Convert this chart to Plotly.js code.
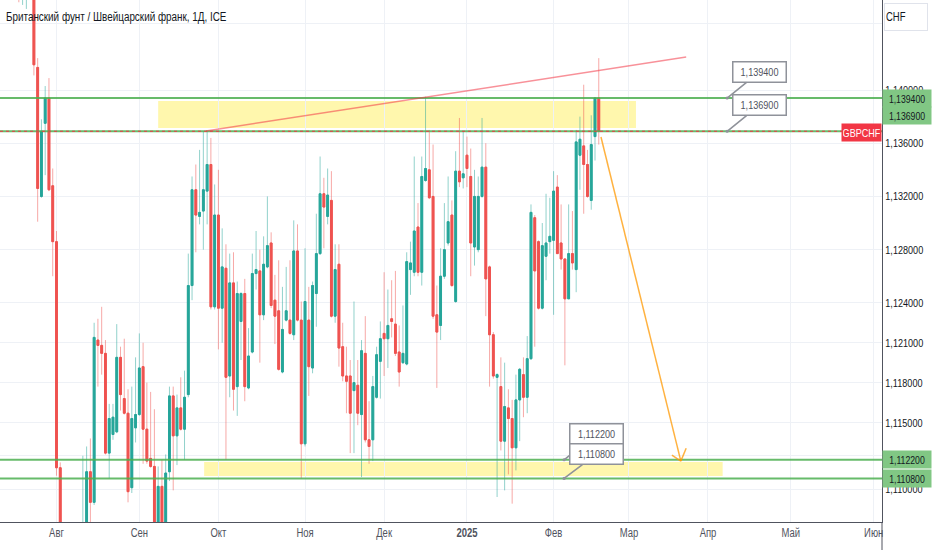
<!DOCTYPE html>
<html>
<head>
<meta charset="utf-8">
<script src="https://cdn.plot.ly/plotly-3.0.1.min.js"></script>
<style>
html,body{margin:0;padding:0;background:#fff;}
#chart{width:932px;height:550px;}
</style>
</head>
<body>
<div id="chart"></div>
<script>
// ---- data (GBPCHF daily) ----
const dates = [
'2024-07-17','2024-07-18','2024-07-19','2024-07-22','2024-07-23','2024-07-24','2024-07-25','2024-07-26','2024-07-29','2024-07-30','2024-07-31',
'2024-08-01','2024-08-02','2024-08-05','2024-08-06','2024-08-07','2024-08-08','2024-08-09','2024-08-12','2024-08-13','2024-08-14','2024-08-15','2024-08-16','2024-08-19','2024-08-20','2024-08-21','2024-08-22','2024-08-23','2024-08-26','2024-08-27','2024-08-28','2024-08-29','2024-08-30',
'2024-09-02','2024-09-03','2024-09-04','2024-09-05','2024-09-06','2024-09-09','2024-09-10','2024-09-11','2024-09-12','2024-09-13','2024-09-16','2024-09-17','2024-09-18','2024-09-19','2024-09-20','2024-09-23','2024-09-24','2024-09-25','2024-09-26','2024-09-27','2024-09-30',
'2024-10-01','2024-10-02','2024-10-03','2024-10-04','2024-10-07','2024-10-08','2024-10-09','2024-10-10','2024-10-11','2024-10-14','2024-10-15','2024-10-16','2024-10-17','2024-10-18','2024-10-21','2024-10-22','2024-10-23','2024-10-24','2024-10-25','2024-10-28','2024-10-29','2024-10-30','2024-10-31',
'2024-11-01','2024-11-04','2024-11-05','2024-11-06','2024-11-07','2024-11-08','2024-11-11','2024-11-12','2024-11-13','2024-11-14','2024-11-15','2024-11-18','2024-11-19','2024-11-20','2024-11-21','2024-11-22','2024-11-25','2024-11-26','2024-11-27','2024-11-28','2024-11-29',
'2024-12-02','2024-12-03','2024-12-04','2024-12-05','2024-12-06','2024-12-09','2024-12-10','2024-12-11','2024-12-12','2024-12-13','2024-12-16','2024-12-17','2024-12-18','2024-12-19','2024-12-20','2024-12-23','2024-12-24','2024-12-25','2024-12-26','2024-12-27','2024-12-30','2024-12-31',
'2025-01-01','2025-01-02','2025-01-03','2025-01-06','2025-01-07','2025-01-08','2025-01-09','2025-01-10','2025-01-13','2025-01-14','2025-01-15','2025-01-16','2025-01-17','2025-01-20','2025-01-21','2025-01-22','2025-01-23','2025-01-24','2025-01-27','2025-01-28','2025-01-29','2025-01-30','2025-01-31',
'2025-02-03','2025-02-04','2025-02-05','2025-02-06','2025-02-07','2025-02-10','2025-02-11','2025-02-12','2025-02-13','2025-02-14','2025-02-17','2025-02-18','2025-02-19'
];
const open = [
1.1560,1.1545,1.1490,1.1495,1.1515,1.1490,1.1417,1.1320,1.1375,1.1394,1.1328,
1.1286,1.1116,1.1050,1.0980,1.1010,1.1040,1.1000,1.1050,1.1065,1.1113,1.1090,1.1212,1.1208,1.1202,1.1127,1.1141,1.1143,1.1199,1.1168,1.1157,1.1101,1.1146,
1.1156,1.1192,1.1145,1.1123,1.1117,1.1068,1.1102,1.1065,1.1113,1.1170,1.1140,1.1161,1.1145,1.1171,1.1253,1.1325,1.1305,1.1309,1.1324,1.1344,1.1237,
1.1306,1.1236,1.1266,1.1185,1.1255,1.1177,1.1226,1.1247,1.1176,1.1203,1.1262,1.1264,1.1231,1.1267,1.1285,1.1242,1.1234,1.1188,1.1227,1.1227,1.1216,1.1279,1.1227,
1.1134,1.1227,1.1191,1.1247,1.1277,1.1322,1.1305,1.1317,1.1230,1.1269,1.1207,1.1185,1.1185,1.1174,1.1178,1.1156,1.1202,1.1137,1.1137,1.1169,1.1196,
1.1217,1.1213,1.1228,1.1224,1.1203,1.1195,1.1194,1.1265,1.1263,1.1297,1.1263,1.1332,1.1340,1.1320,1.1231,1.1223,1.1260,1.1285,1.1306,1.1241,1.1339,1.1334,
1.1351,1.1335,1.1282,1.1280,1.1320,1.1342,1.1267,1.1216,1.1184,1.1177,1.1136,1.1161,1.1153,1.1131,1.1167,1.1186,1.1169,1.1198,1.1304,1.1286,1.1236,1.1275,1.1286,
1.1287,1.1327,1.1285,1.1273,1.1243,1.1277,1.1265,1.1351,1.1358,1.1344,1.1317,1.1365,1.1394
];
const high = [
1.1580,1.1560,1.1530,1.1530,1.1530,1.1500,1.1424,1.1378,1.1403,1.1409,1.1341,
1.1294,1.1120,1.1070,1.1030,1.1060,1.1065,1.1068,1.1125,1.1132,1.1138,1.1225,1.1228,1.1237,1.1212,1.1164,1.1164,1.1224,1.1207,1.1213,1.1175,1.1177,1.1199,
1.1217,1.1210,1.1180,1.1173,1.1160,1.1117,1.1122,1.1126,1.1177,1.1177,1.1171,1.1184,1.1189,1.1277,1.1335,1.1344,1.1355,1.1369,1.1369,1.1364,1.1329,
1.1340,1.1296,1.1284,1.1277,1.1278,1.1256,1.1248,1.1258,1.1221,1.1277,1.1294,1.1280,1.1290,1.1320,1.1293,1.1261,1.1272,1.1252,1.1267,1.1272,1.1302,1.1299,1.1241,
1.1281,1.1252,1.1256,1.1307,1.1350,1.1334,1.1341,1.1339,1.1284,1.1284,1.1225,1.1207,1.1197,1.1241,1.1197,1.1212,1.1230,1.1166,1.1185,1.1207,1.1226,
1.1263,1.1250,1.1257,1.1264,1.1223,1.1238,1.1278,1.1286,1.1350,1.1315,1.1350,1.1395,1.1370,1.1359,1.1253,1.1281,1.1315,1.1335,1.1317,1.1354,1.1379,1.1369,
1.1365,1.1356,1.1340,1.1335,1.1379,1.1360,1.1268,1.1218,1.1187,1.1199,1.1195,1.1175,1.1167,1.1186,1.1191,1.1199,1.1215,1.1314,1.1306,1.1287,1.1300,1.1322,1.1319,
1.1339,1.1336,1.1314,1.1273,1.1314,1.1309,1.1370,1.1380,1.1404,1.1355,1.1381,1.1394,1.1424
];
const low = [
1.1530,1.1466,1.1464,1.1461,1.1472,1.1411,1.1301,1.1319,1.1336,1.1324,1.1260,
1.1110,1.1045,1.0920,1.0960,1.0990,1.0985,1.0990,1.1030,1.1050,1.1070,1.1088,1.1177,1.1186,1.1126,1.1108,1.1137,1.1142,1.1159,1.1156,1.1090,1.1097,1.1135,
1.1155,1.1119,1.1119,1.1116,1.1060,1.1062,1.1058,1.1060,1.1106,1.1099,1.1118,1.1144,1.1122,1.1169,1.1242,1.1278,1.1299,1.1280,1.1299,1.1235,1.1235,
1.1205,1.1210,1.1122,1.1169,1.1159,1.1155,1.1197,1.1166,1.1175,1.1202,1.1250,1.1195,1.1227,1.1266,1.1236,1.1209,1.1189,1.1187,1.1226,1.1216,1.1212,1.1226,1.1108,
1.1132,1.1170,1.1187,1.1222,1.1276,1.1281,1.1299,1.1229,1.1225,1.1192,1.1181,1.1157,1.1127,1.1127,1.1148,1.1109,1.1135,1.1119,1.1121,1.1168,1.1168,
1.1185,1.1191,1.1214,1.1200,1.1177,1.1194,1.1193,1.1246,1.1260,1.1260,1.1253,1.1331,1.1318,1.1228,1.1176,1.1212,1.1258,1.1283,1.1252,1.1240,1.1327,1.1326,
1.1327,1.1260,1.1268,1.1278,1.1319,1.1230,1.1177,1.1183,1.1094,1.1129,1.1099,1.1111,1.1089,1.1114,1.1136,1.1154,1.1157,1.1197,1.1207,1.1235,1.1235,1.1257,1.1277,
1.1231,1.1277,1.1265,1.1193,1.1243,1.1265,1.1248,1.1325,1.1307,1.1319,1.1310,1.1347,1.1359
];
const close = [
1.1545,1.1500,1.1510,1.1515,1.1490,1.1419,1.1326,1.1369,1.1394,1.1325,1.1286,
1.1116,1.1060,1.0980,1.1010,1.1040,1.1000,1.1050,1.1065,1.1113,1.1090,1.1214,1.1208,1.1202,1.1127,1.1153,1.1154,1.1199,1.1171,1.1157,1.1098,1.1153,1.1156,
1.1191,1.1145,1.1121,1.1117,1.1070,1.1102,1.1065,1.1112,1.1170,1.1140,1.1161,1.1145,1.1169,1.1253,1.1325,1.1306,1.1308,1.1325,1.1344,1.1237,1.1306,
1.1236,1.1267,1.1184,1.1255,1.1175,1.1247,1.1247,1.1177,1.1200,1.1262,1.1265,1.1231,1.1269,1.1283,1.1238,1.1230,1.1190,1.1220,1.1234,1.1217,1.1279,1.1227,1.1134,
1.1241,1.1192,1.1253,1.1277,1.1322,1.1312,1.1321,1.1230,1.1265,1.1206,1.1185,1.1181,1.1157,1.1180,1.1157,1.1204,1.1137,1.1132,1.1177,1.1201,1.1213,
1.1213,1.1223,1.1226,1.1202,1.1188,1.1202,1.1271,1.1270,1.1294,1.1263,1.1335,1.1341,1.1319,1.1230,1.1218,1.1260,1.1280,1.1301,1.1253,1.1339,1.1331,1.1337,
1.1341,1.1285,1.1320,1.1320,1.1342,1.1258,1.1216,1.1185,1.1186,1.1136,1.1162,1.1153,1.1131,1.1167,1.1190,1.1169,1.1198,1.1308,1.1264,1.1236,1.1283,1.1285,1.1290,
1.1324,1.1277,1.1273,1.1243,1.1277,1.1270,1.1361,1.1363,1.1344,1.1320,1.1359,1.1394,1.1369
];

// horizontal levels (green lines) and their labels
const levels = [1.1394, 1.1369, 1.1122, 1.1108];
// month ticks
const monthTicks  = ['2024-08-01','2024-09-02','2024-10-01','2024-11-01','2024-12-02','2025-01-01','2025-02-03','2025-03-03','2025-04-01','2025-05-01','2025-06-02'];
const monthLabels = ['Авг','Сен','Окт','Ноя','Дек','<b>2025</b>','Фев','Мар','Апр','Май','Июн'];
// price ticks (the top one is a gridline only; its label sits under the CHF box)
const priceTicks = [1.1100, 1.1125, 1.1150, 1.1180, 1.1210, 1.1240, 1.1280, 1.1320, 1.1360, 1.1400, 1.1450];
const hiddenTick = 1.1450;

// drawings (zones, trend line, forecast arrow)
const zoneTop    = {x0:'2024-09-09', x1:'2025-03-04 21:00', y0:1.13714, y1:1.13917};
const zoneBottom = {x0:'2024-09-25 05:00', x1:'2025-04-04 21:30', y0:1.11098, y1:1.11203};
const trend  = {x0:'2024-09-25 17:00', y0:1.13692, x1:'2025-03-24 05:00', y1:1.14248};
const arrow  = {x0:'2025-02-19 14:00', y0:1.13647, x1:'2025-03-20 19:00', y1:1.11210,
                lx:'2025-03-18 10:00', ly:1.11255, rx:'2025-03-24 05:00', ry:1.11306};
const calloutTopX = '2025-04-08 02:00';
const calloutBotX = '2025-02-05 19:00';

const FONT = "'Liberation Sans',Arial,sans-serif";
const NARROW = 0.79;   // the reference uses a condensed face
const fmt = v => v.toFixed(6).replace('.', ',');

const bodyHigh = open.map((o,i) => Math.max(o, close[i]));
const bodyLow  = open.map((o,i) => Math.min(o, close[i]));
const lastClose = close[close.length-1];

const wicks = {
  type:'candlestick', x:dates, open:open, high:high, low:low, close:close,
  increasing:{line:{color:'rgba(38,166,154,0.5)', width:1}, fillcolor:'rgba(38,166,154,0.5)'},
  decreasing:{line:{color:'rgba(239,83,80,0.5)', width:1}, fillcolor:'rgba(239,83,80,0.5)'},
  whiskerwidth:0, hoverinfo:'skip', showlegend:false
};
const bodies = {
  type:'candlestick', x:dates, open:open, high:bodyHigh, low:bodyLow, close:close,
  increasing:{line:{color:'#26a69a', width:1}, fillcolor:'#26a69a'},
  decreasing:{line:{color:'#ef5350', width:1}, fillcolor:'#ef5350'},
  whiskerwidth:0, hoverinfo:'skip', showlegend:false
};

const shapes = [];
shapes.push({type:'rect', xref:'x', yref:'y', x0:zoneTop.x0, x1:zoneTop.x1, y0:zoneTop.y0, y1:zoneTop.y1,
  fillcolor:'rgba(255,241,118,0.6)', line:{width:0}, layer:'below'});
shapes.push({type:'rect', xref:'x', yref:'y', x0:zoneBottom.x0, x1:zoneBottom.x1, y0:zoneBottom.y0, y1:zoneBottom.y1,
  fillcolor:'rgba(255,241,118,0.6)', line:{width:0}, layer:'below'});
levels.forEach(v => shapes.push({type:'line', xref:'paper', yref:'y', x0:0, x1:1, y0:v, y1:v,
  line:{color:'rgba(76,175,80,0.85)', width:2}}));
shapes.push({type:'line', xref:'paper', yref:'y', x0:0, x1:1, y0:lastClose, y1:lastClose,
  line:{color:'#f23645', width:1, dash:'dot'}});
shapes.push({type:'line', xref:'x', yref:'y', x0:trend.x0, y0:trend.y0, x1:trend.x1, y1:trend.y1,
  line:{color:'rgba(242,54,69,0.55)', width:1.5}});
shapes.push({type:'line', xref:'x', yref:'y', x0:arrow.x0, y0:arrow.y0, x1:arrow.x1, y1:arrow.y1,
  line:{color:'rgba(255,152,0,0.75)', width:1.5}});
shapes.push({type:'line', xref:'x', yref:'y', x0:arrow.lx, y0:arrow.ly, x1:arrow.x1, y1:arrow.y1,
  line:{color:'rgba(255,152,0,0.75)', width:1.5}});
shapes.push({type:'line', xref:'x', yref:'y', x0:arrow.rx, y0:arrow.ry, x1:arrow.x1, y1:arrow.y1,
  line:{color:'rgba(255,152,0,0.75)', width:1.5}});
// price-scale separator continues down through the time-axis strip
shapes.push({type:'line', xref:'paper', yref:'paper', x0:1, x1:1, y0:-0.06, y1:0,
  line:{color:'#50535e', width:1}});

const annotations = [];
annotations.push({xref:'paper', yref:'paper', x:0, y:1, xanchor:'left', yanchor:'top', xshift:4, yshift:-8,
  text:'Британский фунт / Швейцарский франк, 1Д, ICE', showarrow:false, align:'left',
  font:{family:FONT, size:12.5, color:'#131722'}});
annotations.push({xref:'paper', yref:'paper', x:1, y:1, xanchor:'left', yanchor:'top', xshift:2, yshift:-3,
  text:'CHF', showarrow:false, align:'left', width:40, height:24, bgcolor:'#ffffff',
  bordercolor:'#e0e3eb', borderwidth:1, borderpad:1, font:{family:FONT, size:12, color:'#131722'}});
// right-axis level labels
const levelShift = [0, 16, 0, 0];
levels.forEach((v,i) => annotations.push({xref:'paper', yref:'y', x:1, y:v, xanchor:'left', yanchor:'middle',
  yshift:levelShift[i], text:fmt(v), showarrow:false, width:46, height:15, borderpad:1,
  bgcolor:'#81c784', font:{family:FONT, size:11, color:'#131722'}}));
// symbol label
annotations.push({xref:'paper', yref:'y', x:1, y:lastClose, xanchor:'right', yanchor:'middle', yshift:-1,
  text:'GBPCHF', showarrow:false, width:37, height:15, borderpad:1, bgcolor:'#f23645',
  font:{family:FONT, size:11.5, color:'#ffffff'}});
// callouts
const calloutX = [calloutTopX, calloutTopX, calloutBotX, calloutBotX];
const calloutAy = [-26, -26, -26, -24];
levels.forEach((v,i) => annotations.push({xref:'x', yref:'y', x:calloutX[i], y:v, ax:32, ay:calloutAy[i],
  text:fmt(v), showarrow:true, arrowhead:6, arrowsize:0.5, arrowwidth:1.6, arrowcolor:'#8f929a',
  width:48, height:15, borderpad:2, bgcolor:'#ffffff', bordercolor:'#8f929a', borderwidth:1.5,
  font:{family:FONT, size:11.5, color:'#50535e'}}));

const layout = {
  width:932, height:550,
  margin:{l:0, r:50, t:0, b:28, pad:0},
  paper_bgcolor:'#ffffff', plot_bgcolor:'#ffffff',
  separators:', ',
  showlegend:false, hovermode:false, dragmode:false,
  font:{family:FONT, size:11, color:'#131722'},
  xaxis:{
    type:'date', range:['2024-07-11','2025-06-04 05:00'],
    rangebreaks:[{bounds:['sat','mon']}],
    rangeslider:{visible:false},
    tickmode:'array', tickvals:monthTicks, ticktext:monthLabels,
    showgrid:true, gridcolor:'#eef1f6', gridwidth:1,
    showline:true, linecolor:'#50535e', linewidth:1, mirror:false,
    ticks:'', tickfont:{family:FONT, size:12, color:'#50535e'},
    zeroline:false, fixedrange:true
  },
  yaxis:{
    side:'right', range:[1.10752, 1.14677],
    tickmode:'array', tickvals:priceTicks,
    ticktext:priceTicks.map(v => v === hiddenTick ? '' : fmt(v)),
    showgrid:true, gridcolor:'#eef1f6', gridwidth:1,
    showline:true, linecolor:'#50535e', linewidth:1,
    ticks:'', tickfont:{family:FONT, size:11.5, color:'#131722'},
    zeroline:false, fixedrange:true
  },
  shapes:shapes,
  annotations:annotations
};

Plotly.newPlot('chart', [wicks, bodies], layout, {staticPlot:true, displayModeBar:false}).then(gd => {
  // condense every text horizontally, like the narrow face of the reference
  gd.querySelectorAll('svg text').forEach(t => {
    const w = t.getComputedTextLength();
    if (w > 0) {
      t.setAttribute('textLength', (w * NARROW).toFixed(2));
      t.setAttribute('lengthAdjust', 'spacingAndGlyphs');
    }
  });
});
</script>
</body>
</html>
